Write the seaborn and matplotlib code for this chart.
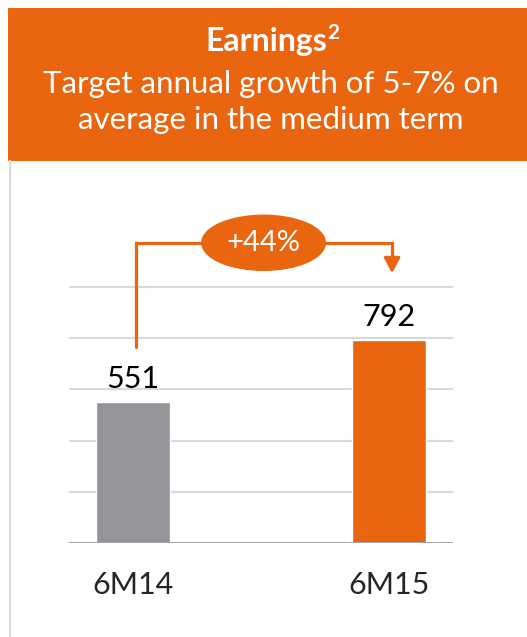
import matplotlib
matplotlib.use("Agg")
import matplotlib.pyplot as plt
from matplotlib.patches import Rectangle, Ellipse
from matplotlib.lines import Line2D
import seaborn as sns
import pandas as pd

periods = ["6M14", "6M15"]
earnings = [551, 792]
growth_label = "+44%"
title_bold = "Earnings"
title_sup = "2"
title_lines = ["Target annual growth of 5-7% on", "average in the medium term"]

ORANGE = "#E9650F"
GREY = "#939598"

sns.set_theme(style="white")
plt.rcParams["font.family"] = ["Lato", "DejaVu Sans"]

df = pd.DataFrame({"period": periods, "earnings": earnings})

W, H = 527, 637
fig = plt.figure(figsize=(W / 100, H / 100), dpi=100)

# orange header box
fig.add_artist(Rectangle((8 / W, 1 - 161 / H), 1 - 8 / W, 153 / H,
                         transform=fig.transFigure, color=ORANGE, lw=0))
fig.text(0.505, 1 - 41 / H, title_bold, color="white", fontsize=23,
         fontweight="bold", ha="center", va="center")
fig.text(0.621, 1 - 33 / H, title_sup, color="white", fontsize=15,
         fontweight="bold", ha="left", va="center")
fig.text(0.513, 1 - 84 / H, title_lines[0], color="white", fontsize=22.5,
         ha="center", va="center")
fig.text(0.513, 1 - 120 / H, title_lines[1], color="white", fontsize=22.5,
         ha="center", va="center")
# left panel border
fig.add_artist(Line2D([9.5 / W, 9.5 / W], [0, 1 - 161 / H],
                      transform=fig.transFigure, color="#dcdcdc", lw=1.6))

ax = fig.add_axes([69 / W, 94 / H, 384 / W, 333 / H])
sns.barplot(data=df, x="period", y="earnings", hue="period",
            palette=[GREY, ORANGE], width=0.29, ax=ax, legend=False,
            saturation=1)
ax.set_xlim(-0.25, 1.25)
ax.set_ylim(0, 1300)
ax.set_yticks([0, 200, 400, 600, 800, 1000])
ax.yaxis.grid(True, color="#d9d9d9", lw=1.5)
ax.set_axisbelow(True)
ax.axhline(0, color="#a6a6a6", lw=2.2, zorder=3)
sns.despine(ax=ax, left=True, bottom=True)
ax.tick_params(axis="y", left=False, labelleft=False)
ax.tick_params(axis="x", bottom=False, labelsize=22, pad=14)
ax.set_xlabel("")
ax.set_ylabel("")

for i, v in enumerate(earnings):
    ax.text(i, v + 90, str(v), ha="center", va="center", fontsize=22,
            color="black")

# growth bracket
top = 1172
ax.plot([0.012, 0.012, 1.012, 1.012],
        [earnings[0] + 214, top, top, earnings[1] + 320],
        color=ORANGE, lw=2.3, clip_on=False, solid_joinstyle="miter")
ax.annotate("", xy=(1.012, earnings[1] + 261), xytext=(1.012, earnings[1] + 322),
            arrowprops=dict(arrowstyle="-|>,head_length=0.75,head_width=0.4",
                            color=ORANGE, lw=2.3, shrinkA=0, shrinkB=0),
            annotation_clip=False)
ax.add_patch(Ellipse((0.51, top), 0.4825, 215, color=ORANGE, clip_on=False,
                     zorder=4))
ax.text(0.51, top, growth_label, ha="center", va="center", color="white",
        fontsize=21, zorder=5)

fig.savefig("out.png", dpi=100)
